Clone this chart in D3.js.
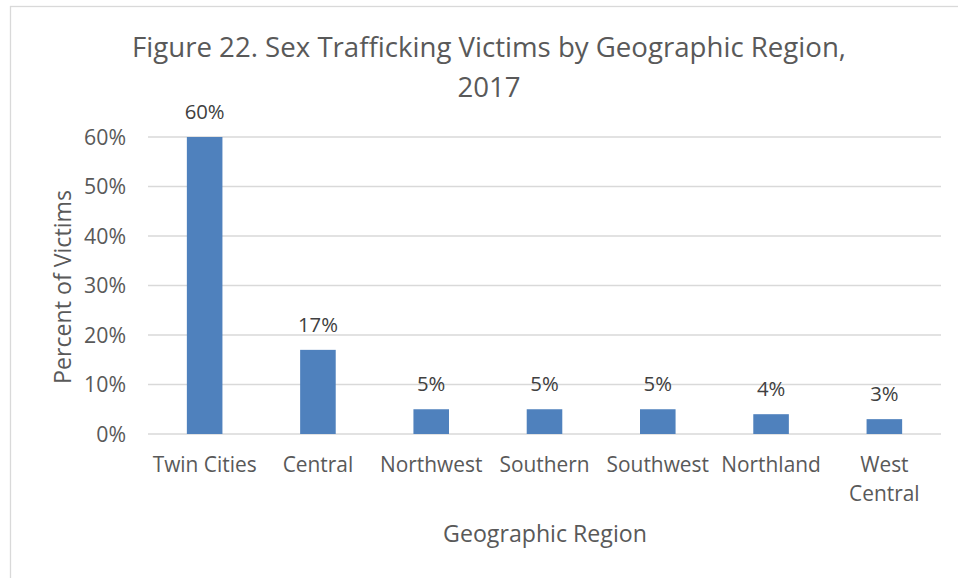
<!DOCTYPE html>
<html>
<head>
<meta charset="utf-8">
<script src="https://cdn.jsdelivr.net/npm/d3@7"></script>
<style>
  body { margin: 0; background: #fff; }
  svg { display: block; }
</style>
</head>
<body>
<svg id="chart" width="958" height="578"></svg>
<script>
const svg = d3.select("#chart");

// data
const regions = ["Twin Cities", "Central", "Northwest", "Southern", "Southwest", "Northland", "West Central"];
const percents = [60, 17, 5, 5, 5, 4, 3];
const yTicks = [0, 10, 20, 30, 40, 50, 60];
const titleLines = ["Figure 22. Sex Trafficking Victims by Geographic Region,", "2017"];

const FONT = "'Open Sans', sans-serif";
const TEXT = "#595959";
const BAR = "#4f81bd";
const GRID = "#d9d9d9";

// Calibri is not around, so size the stand-in font by the widths measured in the picture
function fitSize(sample, width) {
  const t = svg.append("text").style("font-family", FONT).style("font-size", "100px").text(sample);
  const w = t.node().getComputedTextLength();
  t.remove();
  return 100 * width / w;
}

const titleSize = fitSize(titleLines[0], 714);
const tickSize = fitSize("60%", 42);
const catSize = fitSize("Twin Cities", 104);
const labelSize = fitSize("60%", 40);
const axisTitleSize = fitSize("Geographic Region", 204);

const plot = {left: 148, right: 941, top: 137, bottom: 434};

// chart border (right and bottom edges fall outside the picture)
svg.append("rect")
  .attr("x", 10.5).attr("y", 6.5)
  .attr("width", 980).attr("height", 600)
  .attr("fill", "#fff")
  .attr("stroke", "#d9d9d9")
  .attr("stroke-width", 1.3);

const x = d3.scaleBand().domain(regions).range([plot.left, plot.right]).paddingInner(0.686).paddingOuter(0.343);
const y = d3.scaleLinear().domain([0, 60]).range([plot.bottom, plot.top]);

// gridlines
svg.append("g")
  .selectAll("line")
  .data(yTicks)
  .join("line")
  .attr("x1", plot.left).attr("x2", plot.right)
  .attr("y1", d => y(d)).attr("y2", d => y(d))
  .attr("stroke", GRID)
  .attr("stroke-width", 1.3);

// y tick labels via an axis with no domain line
const yAxis = svg.append("g")
  .attr("transform", `translate(${plot.left - 22},0)`)
  .call(d3.axisLeft(y).tickValues(yTicks).tickFormat(d => d + "%").tickSize(0).tickPadding(0));
yAxis.select(".domain").remove();
yAxis.selectAll("text")
  .style("font-family", FONT)
  .style("font-size", tickSize + "px")
  .attr("fill", TEXT)
  .attr("dy", "0.35em");

// bars
svg.append("g")
  .selectAll("rect")
  .data(percents)
  .join("rect")
  .attr("x", (d, i) => x(regions[i]))
  .attr("y", d => y(d))
  .attr("width", x.bandwidth())
  .attr("height", d => y(0) - y(d))
  .attr("fill", BAR);

// value labels
svg.append("g")
  .selectAll("text")
  .data(percents)
  .join("text")
  .attr("x", (d, i) => x(regions[i]) + x.bandwidth() / 2)
  .attr("y", d => y(d) - 18)
  .attr("text-anchor", "middle")
  .style("font-family", FONT)
  .style("font-size", labelSize + "px")
  .attr("fill", "#404040")
  .text(d => d + "%");

// category labels, "West Central" wraps to two lines
const step = x.step();
svg.append("g")
  .selectAll("text")
  .data(regions)
  .join("text")
  .attr("x", d => x(d) + x.bandwidth() / 2)
  .attr("y", 472)
  .attr("text-anchor", "middle")
  .style("font-family", FONT)
  .style("font-size", catSize + "px")
  .attr("fill", TEXT)
  .each(function(d) {
    const el = d3.select(this);
    el.text(d);
    if (this.getComputedTextLength() > step) {
      el.text(null);
      d.split(" ").forEach((w, i) => {
        el.append("tspan").attr("x", el.attr("x")).attr("dy", i ? 29 : 0).text(w);
      });
    }
  });

// axis titles
svg.append("text")
  .attr("x", 545).attr("y", 542)
  .attr("text-anchor", "middle")
  .style("font-family", FONT)
  .style("font-size", axisTitleSize + "px")
  .attr("fill", TEXT)
  .text("Geographic Region");

svg.append("text")
  .attr("transform", "translate(71,287) rotate(-90)")
  .attr("text-anchor", "middle")
  .style("font-family", FONT)
  .style("font-size", axisTitleSize + "px")
  .attr("fill", TEXT)
  .text("Percent of Victims");

// title
svg.append("text")
  .attr("x", 489).attr("y", 57)
  .attr("text-anchor", "middle")
  .style("font-family", FONT)
  .style("font-size", titleSize + "px")
  .attr("fill", TEXT)
  .selectAll("tspan")
  .data(titleLines)
  .join("tspan")
  .attr("x", 489)
  .attr("dy", (d, i) => i ? 40 : 0)
  .text(d => d);
</script>
</body>
</html>
